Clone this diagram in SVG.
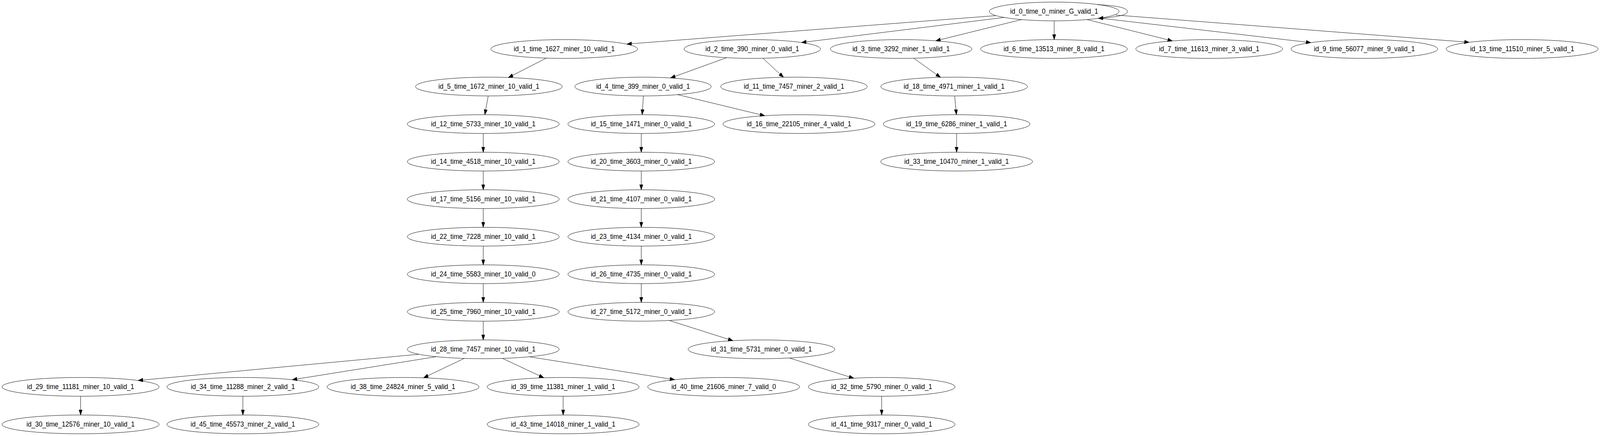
<svg xmlns="http://www.w3.org/2000/svg" width="4526" height="1115" viewBox="0 0 4526 1115" preserveAspectRatio="none">
<defs>
<style>
@media (max-width: 4480px) { svg { width: 100vw; height: 100vh; } }
.n ellipse{fill:none;stroke:#000;stroke-width:1}
.n text{font-family:"Liberation Sans",Arial,Helvetica,sans-serif;font-size:18.35px;text-anchor:middle;fill:#000}
#edges path{fill:none;stroke:#000;stroke-width:1;marker-end:url(#ah)}
</style>
<marker id="ah" markerUnits="userSpaceOnUse" markerWidth="14" markerHeight="10" viewBox="0 0 14 10" refX="13.33" refY="4.67" orient="auto"><path d="M0,0 L13.33,4.67 L0,9.33 Z" fill="#000" stroke="#000" stroke-width="1"/></marker>
</defs>
<rect x="0" y="0" width="4526" height="1115" fill="#fff"/>
<g id="edges">
<path d="M3104,11.8 C3150,14 3189,18 3189,30 C3189,40 3150,44 3107,47"/>
<path d="M2816.7,40 L1773.5,112.7"/>
<path d="M2843,44.3 L2267.5,108.7"/>
<path d="M2890,50 L2647.3,104.35"/>
<path d="M2982,53.33 L2982,101.33"/>
<path d="M3075,50 L3316.2,104.6"/>
<path d="M3112,46.5 L3707.8,109"/>
<path d="M3156,38.5 L4155.5,108.1"/>
<path d="M1546,148.3 L1438.3,198.2"/>
<path d="M2056,147.3 L1896.9,199.4"/>
<path d="M2158,149 L2216.3,197.5"/>
<path d="M2584.8,149 L2660.4,197.7"/>
<path d="M1381,245.33 L1371.5,293.33"/>
<path d="M1820,245.33 L1816.5,293.33"/>
<path d="M1917,242 L2163,295.9"/>
<path d="M2700.5,245.33 L2705.5,293.33"/>
<path d="M1367,341.33 L1367,389.33"/>
<path d="M1814,341.33 L1814,389.33"/>
<path d="M2706,341.33 L2706,389.33"/>
<path d="M1367,437.33 L1367,485.33"/>
<path d="M1814,437.33 L1814,485.33"/>
<path d="M1367,533.33 L1367,581.33"/>
<path d="M1814,533.33 L1814,581.33"/>
<path d="M1367,629.33 L1367,677.33"/>
<path d="M1814,629.33 L1814,677.33"/>
<path d="M1367,725.33 L1367,773.33"/>
<path d="M1814,725.33 L1814,773.33"/>
<path d="M1367,821.33 L1367,869.33"/>
<path d="M1893,819.5 L2073,871.2"/>
<path d="M1184,906 L391,973"/>
<path d="M1234,912.2 L827,971.1"/>
<path d="M1313,916.6 L1198.5,966"/>
<path d="M1421.7,916.6 L1538,966"/>
<path d="M1497,912.4 L1908.3,971"/>
<path d="M2233,915.5 L2415,967.3"/>
<path d="M228,1013.33 L228,1061.33"/>
<path d="M687,1013.33 L687,1061.33"/>
<path d="M1593,1013.33 L1593,1061.33"/>
<path d="M2494,1013.33 L2494,1061.33"/>
</g>
<g id="id_0" class="n"><ellipse cx="2982" cy="29.33" rx="183.5" ry="24"/><text x="2982" y="35.33">id_0_time_0_miner_G_valid_1</text></g>
<g id="id_1" class="n"><ellipse cx="1596" cy="125.33" rx="207.5" ry="24"/><text x="1596" y="131.33">id_1_time_1627_miner_10_valid_1</text></g>
<g id="id_2" class="n"><ellipse cx="2128" cy="125.33" rx="192.9" ry="24"/><text x="2128" y="131.33">id_2_time_390_miner_0_valid_1</text></g>
<g id="id_3" class="n"><ellipse cx="2549" cy="125.33" rx="200.2" ry="24"/><text x="2549" y="131.33">id_3_time_3292_miner_1_valid_1</text></g>
<g id="id_6" class="n"><ellipse cx="2981.5" cy="125.33" rx="207.5" ry="24"/><text x="2981.5" y="131.33">id_6_time_13513_miner_8_valid_1</text></g>
<g id="id_7" class="n"><ellipse cx="3420.4" cy="125.33" rx="207.5" ry="24"/><text x="3420.4" y="131.33">id_7_time_11613_miner_3_valid_1</text></g>
<g id="id_9" class="n"><ellipse cx="3859.4" cy="125.33" rx="207.5" ry="24"/><text x="3859.4" y="131.33">id_9_time_56077_miner_9_valid_1</text></g>
<g id="id_13" class="n"><ellipse cx="4305.8" cy="125.33" rx="214.9" ry="24"/><text x="4305.8" y="131.33">id_13_time_11510_miner_5_valid_1</text></g>
<g id="id_5" class="n"><ellipse cx="1383" cy="221.33" rx="207.5" ry="24"/><text x="1383" y="227.33">id_5_time_1672_miner_10_valid_1</text></g>
<g id="id_4" class="n"><ellipse cx="1819" cy="221.33" rx="192.9" ry="24"/><text x="1819" y="227.33">id_4_time_399_miner_0_valid_1</text></g>
<g id="id_11" class="n"><ellipse cx="2246" cy="221.33" rx="207.5" ry="24"/><text x="2246" y="227.33">id_11_time_7457_miner_2_valid_1</text></g>
<g id="id_18" class="n"><ellipse cx="2699" cy="221.33" rx="207.5" ry="24"/><text x="2699" y="227.33">id_18_time_4971_miner_1_valid_1</text></g>
<g id="id_12" class="n"><ellipse cx="1367" cy="317.33" rx="214.9" ry="24"/><text x="1367" y="323.33">id_12_time_5733_miner_10_valid_1</text></g>
<g id="id_15" class="n"><ellipse cx="1814" cy="317.33" rx="207.5" ry="24"/><text x="1814" y="323.33">id_15_time_1471_miner_0_valid_1</text></g>
<g id="id_16" class="n"><ellipse cx="2260" cy="317.33" rx="214.9" ry="24"/><text x="2260" y="323.33">id_16_time_22105_miner_4_valid_1</text></g>
<g id="id_19" class="n"><ellipse cx="2706" cy="317.33" rx="207.5" ry="24"/><text x="2706" y="323.33">id_19_time_6286_miner_1_valid_1</text></g>
<g id="id_14" class="n"><ellipse cx="1367" cy="413.33" rx="214.9" ry="24"/><text x="1367" y="419.33">id_14_time_4518_miner_10_valid_1</text></g>
<g id="id_20" class="n"><ellipse cx="1814" cy="413.33" rx="207.5" ry="24"/><text x="1814" y="419.33">id_20_time_3603_miner_0_valid_1</text></g>
<g id="id_33" class="n"><ellipse cx="2706" cy="413.33" rx="214.9" ry="24"/><text x="2706" y="419.33">id_33_time_10470_miner_1_valid_1</text></g>
<g id="id_17" class="n"><ellipse cx="1367" cy="509.33" rx="214.9" ry="24"/><text x="1367" y="515.33">id_17_time_5156_miner_10_valid_1</text></g>
<g id="id_21" class="n"><ellipse cx="1814" cy="509.33" rx="207.5" ry="24"/><text x="1814" y="515.33">id_21_time_4107_miner_0_valid_1</text></g>
<g id="id_22" class="n"><ellipse cx="1367" cy="605.33" rx="214.9" ry="24"/><text x="1367" y="611.33">id_22_time_7228_miner_10_valid_1</text></g>
<g id="id_23" class="n"><ellipse cx="1814" cy="605.33" rx="207.5" ry="24"/><text x="1814" y="611.33">id_23_time_4134_miner_0_valid_1</text></g>
<g id="id_24" class="n"><ellipse cx="1367" cy="701.33" rx="214.9" ry="24"/><text x="1367" y="707.33">id_24_time_5583_miner_10_valid_0</text></g>
<g id="id_26" class="n"><ellipse cx="1814" cy="701.33" rx="207.5" ry="24"/><text x="1814" y="707.33">id_26_time_4735_miner_0_valid_1</text></g>
<g id="id_25" class="n"><ellipse cx="1367" cy="797.33" rx="214.9" ry="24"/><text x="1367" y="803.33">id_25_time_7960_miner_10_valid_1</text></g>
<g id="id_27" class="n"><ellipse cx="1814" cy="797.33" rx="207.5" ry="24"/><text x="1814" y="803.33">id_27_time_5172_miner_0_valid_1</text></g>
<g id="id_28" class="n"><ellipse cx="1367" cy="893.33" rx="214.9" ry="24"/><text x="1367" y="899.33">id_28_time_7457_miner_10_valid_1</text></g>
<g id="id_31" class="n"><ellipse cx="2154" cy="893.33" rx="207.5" ry="24"/><text x="2154" y="899.33">id_31_time_5731_miner_0_valid_1</text></g>
<g id="id_29" class="n"><ellipse cx="228" cy="989.33" rx="222.2" ry="24"/><text x="228" y="995.33">id_29_time_11181_miner_10_valid_1</text></g>
<g id="id_34" class="n"><ellipse cx="687" cy="989.33" rx="214.9" ry="24"/><text x="687" y="995.33">id_34_time_11288_miner_2_valid_1</text></g>
<g id="id_38" class="n"><ellipse cx="1140" cy="989.33" rx="214.9" ry="24"/><text x="1140" y="995.33">id_38_time_24824_miner_5_valid_1</text></g>
<g id="id_39" class="n"><ellipse cx="1593" cy="989.33" rx="214.9" ry="24"/><text x="1593" y="995.33">id_39_time_11381_miner_1_valid_1</text></g>
<g id="id_40" class="n"><ellipse cx="2047" cy="989.33" rx="214.9" ry="24"/><text x="2047" y="995.33">id_40_time_21606_miner_7_valid_0</text></g>
<g id="id_32" class="n"><ellipse cx="2494" cy="989.33" rx="207.5" ry="24"/><text x="2494" y="995.33">id_32_time_5790_miner_0_valid_1</text></g>
<g id="id_30" class="n"><ellipse cx="228" cy="1085.33" rx="222.2" ry="24"/><text x="228" y="1091.33">id_30_time_12576_miner_10_valid_1</text></g>
<g id="id_45" class="n"><ellipse cx="687" cy="1085.33" rx="214.9" ry="24"/><text x="687" y="1091.33">id_45_time_45573_miner_2_valid_1</text></g>
<g id="id_43" class="n"><ellipse cx="1593" cy="1085.33" rx="214.9" ry="24"/><text x="1593" y="1091.33">id_43_time_14018_miner_1_valid_1</text></g>
<g id="id_41" class="n"><ellipse cx="2494" cy="1085.33" rx="207.5" ry="24"/><text x="2494" y="1091.33">id_41_time_9317_miner_0_valid_1</text></g>
</svg>
